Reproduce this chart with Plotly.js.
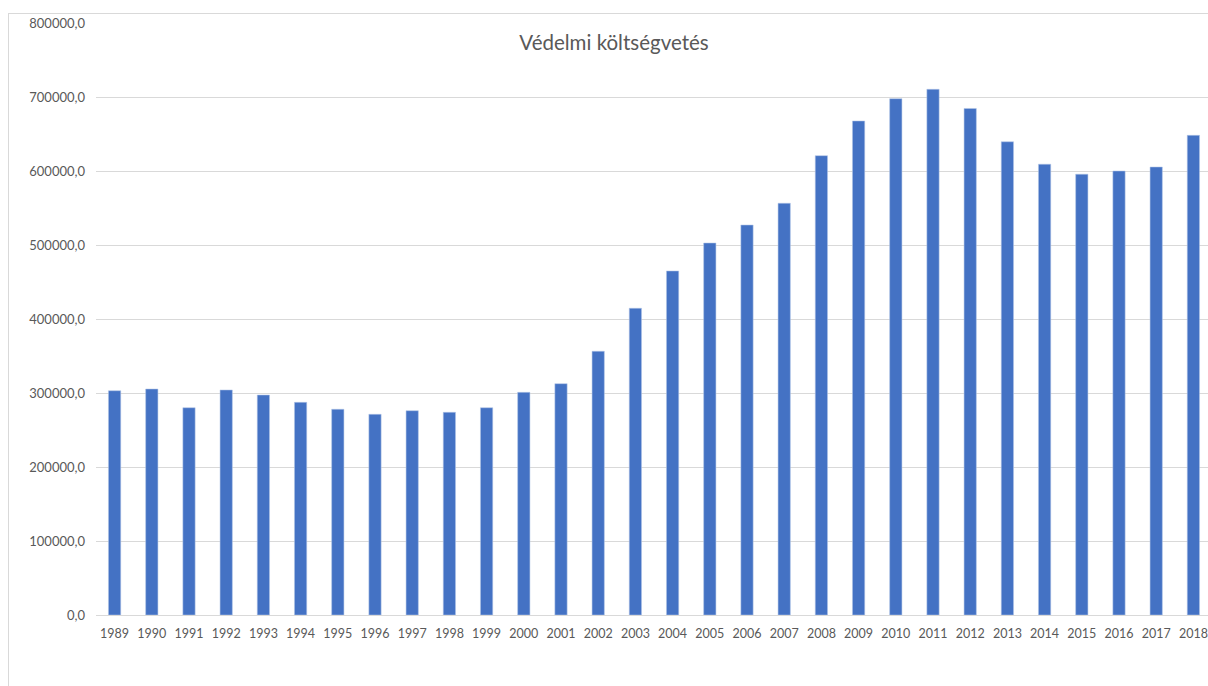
<!DOCTYPE html>
<html>
<head>
<meta charset="utf-8">
<script src="https://cdn.plot.ly/plotly-3.0.1.min.js"></script>
<style>
  html, body { margin: 0; padding: 0; background: #ffffff; overflow: hidden; width: 1208px; height: 686px; }
  #frame { position: absolute; left: 8px; top: 13px; width: 1240px; height: 690px;
           border-left: 1px solid #d9d9d9; border-top: 1px solid #d9d9d9; box-sizing: border-box; }
  #chart { position: absolute; left: 0; top: 0; }
</style>
</head>
<body>
<div id="frame"><div id="chart"></div></div>
<script>
const years = ["1989","1990","1991","1992","1993","1994","1995","1996","1997","1998","1999","2000",
  "2001","2002","2003","2004","2005","2006","2007","2008","2009","2010","2011","2012","2013","2014",
  "2015","2016","2017","2018"];
const budget = [303100, 305400, 280100, 304100, 297300, 287400, 278000, 271200, 276100, 273900, 280100, 300900,
  312600, 356400, 414500, 464900, 502700, 527000, 556400, 620700, 667600, 697700, 710400, 684500, 639500, 609200,
  595700, 600000, 605400, 648200];
const yTickVals = [0, 100000, 200000, 300000, 400000, 500000, 600000, 700000, 800000];
const yTickText = ["0,0", "100000,0", "200000,0", "300000,0", "400000,0", "500000,0", "600000,0", "700000,0", "800000,0"];
const chartTitle = "Védelmi költségvetés";

const W = 1230, H = 673;
const trace = {
  type: 'bar',
  x: years,
  y: budget,
  marker: { color: '#4472C4', line: { color: 'rgba(180,199,231,0.9)', width: 0.6 } },
  hoverinfo: 'x+y'
};
const layout = {
  width: W, height: H,
  margin: { l: 87, r: 27, t: 9, b: 72 },
  paper_bgcolor: 'rgba(0,0,0,0)',
  plot_bgcolor: 'rgba(0,0,0,0)',
  bargap: 0.67,
  showlegend: false,
  font: { family: 'Lato, "Open Sans", sans-serif', color: '#595959', size: 12 },
  title: {
    text: chartTitle,
    font: { family: 'Lato, "Open Sans", sans-serif', size: 20.5, color: '#595959' },
    xref: 'container', x: 605 / W, xanchor: 'center',
    yref: 'container', y: 1 - 29 / H, yanchor: 'middle'
  },
  xaxis: {
    type: 'category',
    tickfont: { size: 12.5, color: '#595959' },
    showgrid: false,
    showline: true, linecolor: '#d9d9d9', linewidth: 1,
    ticks: '', ticklabelstandoff: 7,
    fixedrange: true
  },
  yaxis: {
    range: [0, 800000],
    tickmode: 'array', tickvals: yTickVals, ticktext: yTickText,
    tickfont: { size: 13, color: '#595959' },
    showgrid: true, gridcolor: '#d9d9d9', gridwidth: 1,
    zeroline: false, showline: false,
    ticks: '', ticklabelstandoff: 10,
    fixedrange: true
  }
};
Plotly.newPlot('chart', [trace], layout, { displayModeBar: false, staticPlot: true });
</script>
</body>
</html>
